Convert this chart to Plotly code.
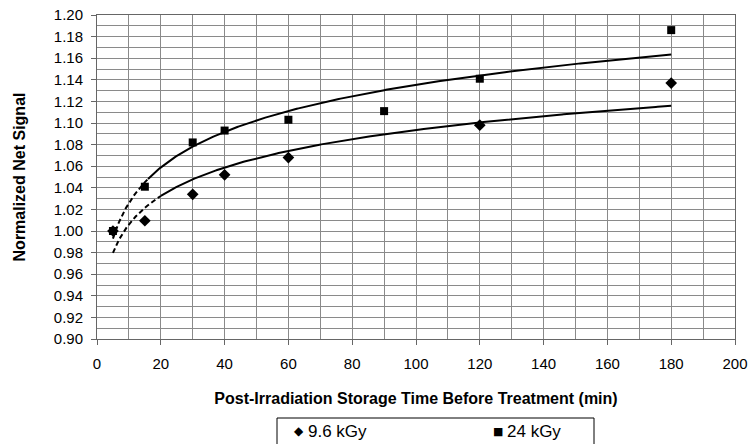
import numpy as np
import plotly.graph_objects as go

# Data
time_96 = [5, 15, 30, 40, 60, 120, 180]
signal_96 = [1.000, 1.0095, 1.034, 1.052, 1.068, 1.098, 1.137]
time_24 = [5, 15, 30, 40, 60, 90, 120, 180]
signal_24 = [1.000, 1.041, 1.082, 1.093, 1.103, 1.111, 1.141, 1.186]
series_names = ["9.6 kGy", "24 kGy"]
x_ticks = [0, 20, 40, 60, 80, 100, 120, 140, 160, 180, 200]
y_ticks = [0.90, 0.92, 0.94, 0.96, 0.98, 1.00, 1.02, 1.04, 1.06, 1.08, 1.10, 1.12, 1.14, 1.16, 1.18, 1.20]

FONT = "Liberation Sans, Arial, sans-serif"
W, H = 752, 444
L, R, T, B = 97, 17, 15, 105
pw, ph = W - L - R, H - T - B


def log_fit(x, y):
    a, b = np.polyfit(np.log(x), y, 1)
    return a, b


fig = go.Figure()

for xs, ys, split in [(time_96, signal_96, 20), (time_24, signal_24, 16)]:
    a, b = log_fit(xs, ys)
    xx1 = np.linspace(min(xs), split, 60)
    xx2 = np.linspace(split, max(xs), 300)
    fig.add_trace(go.Scatter(x=xx1, y=a * np.log(xx1) + b, mode="lines",
                             line=dict(color="black", width=2, dash="5px,3px"),
                             showlegend=False, hoverinfo="skip"))
    fig.add_trace(go.Scatter(x=xx2, y=a * np.log(xx2) + b, mode="lines",
                             line=dict(color="black", width=2),
                             showlegend=False, hoverinfo="skip"))

fig.add_trace(go.Scatter(x=time_96, y=signal_96, mode="markers", name=series_names[0],
                         marker=dict(symbol="diamond", size=9, color="black"),
                         showlegend=False))
fig.add_trace(go.Scatter(x=time_24, y=signal_24, mode="markers", name=series_names[1],
                         marker=dict(symbol="square", size=8, color="black"),
                         showlegend=False))


def px_x(p):
    return (p - L) / pw


def px_y(p):
    return (H - B - p) / ph


# legend box and entries (drawn as shapes/annotations so the plot area is not pushed)
fig.add_shape(type="rect", xref="paper", yref="paper",
              x0=px_x(277), x1=px_x(594), y0=px_y(446), y1=px_y(418),
              line=dict(color="black", width=1), fillcolor="white", layer="below")
legend_y = px_y(431)
for cx, glyph, gsize, name in [(299, "\u25c6", 12, series_names[0]), (498, "\u25a0", 11, series_names[1])]:
    fig.add_annotation(xref="paper", yref="paper", x=px_x(cx), y=legend_y,
                       text=glyph, showarrow=False, xanchor="center", yanchor="middle",
                       font=dict(size=gsize, color="black", family="DejaVu Sans"))
    fig.add_annotation(xref="paper", yref="paper", x=px_x(cx + 7), y=legend_y,
                       text=name, showarrow=False, xanchor="left", yanchor="middle",
                       font=dict(size=17, color="black", family=FONT))

grid_col = "#8a8a8a"
fig.update_layout(
    width=W, height=H,
    margin=dict(l=L, r=R, t=T, b=B, autoexpand=False),
    paper_bgcolor="white", plot_bgcolor="white",
    font=dict(family=FONT, size=15, color="black"),
    showlegend=False,
    xaxis=dict(range=[0, 200], tickvals=x_ticks, ticktext=[str(v) for v in x_ticks],
               showgrid=True, gridcolor=grid_col, gridwidth=1,
               minor=dict(dtick=10, showgrid=True, gridcolor=grid_col, gridwidth=1),
               ticks="outside", ticklen=5, tickcolor="#666",
               showline=True, linecolor="#666", linewidth=1, mirror=True,
               zeroline=False, tickfont=dict(size=15), ticklabelstandoff=6,
               ticklabeloverflow="allow",
               title=dict(text="<b>Post-Irradiation Storage Time Before Treatment (min)</b>",
                          font=dict(size=16), standoff=21)),
    yaxis=dict(range=[0.90, 1.20], tickvals=y_ticks,
               ticktext=[f"{v:.2f}" for v in y_ticks],
               showgrid=True, gridcolor=grid_col, gridwidth=1,
               minor=dict(dtick=0.01, showgrid=True, gridcolor=grid_col, gridwidth=1),
               ticks="outside", ticklen=5, tickcolor="#666",
               showline=True, linecolor="#666", linewidth=1, mirror=True,
               zeroline=False, tickfont=dict(size=15), ticklabelstandoff=5,
               ticklabeloverflow="allow",
               title=dict(text="<b>Normalized Net Signal</b>", font=dict(size=16), standoff=24)),
)

fig.write_html("out.html", config={"displayModeBar": False},
               post_script="document.body.style.margin='0';document.body.style.overflow='hidden';")
